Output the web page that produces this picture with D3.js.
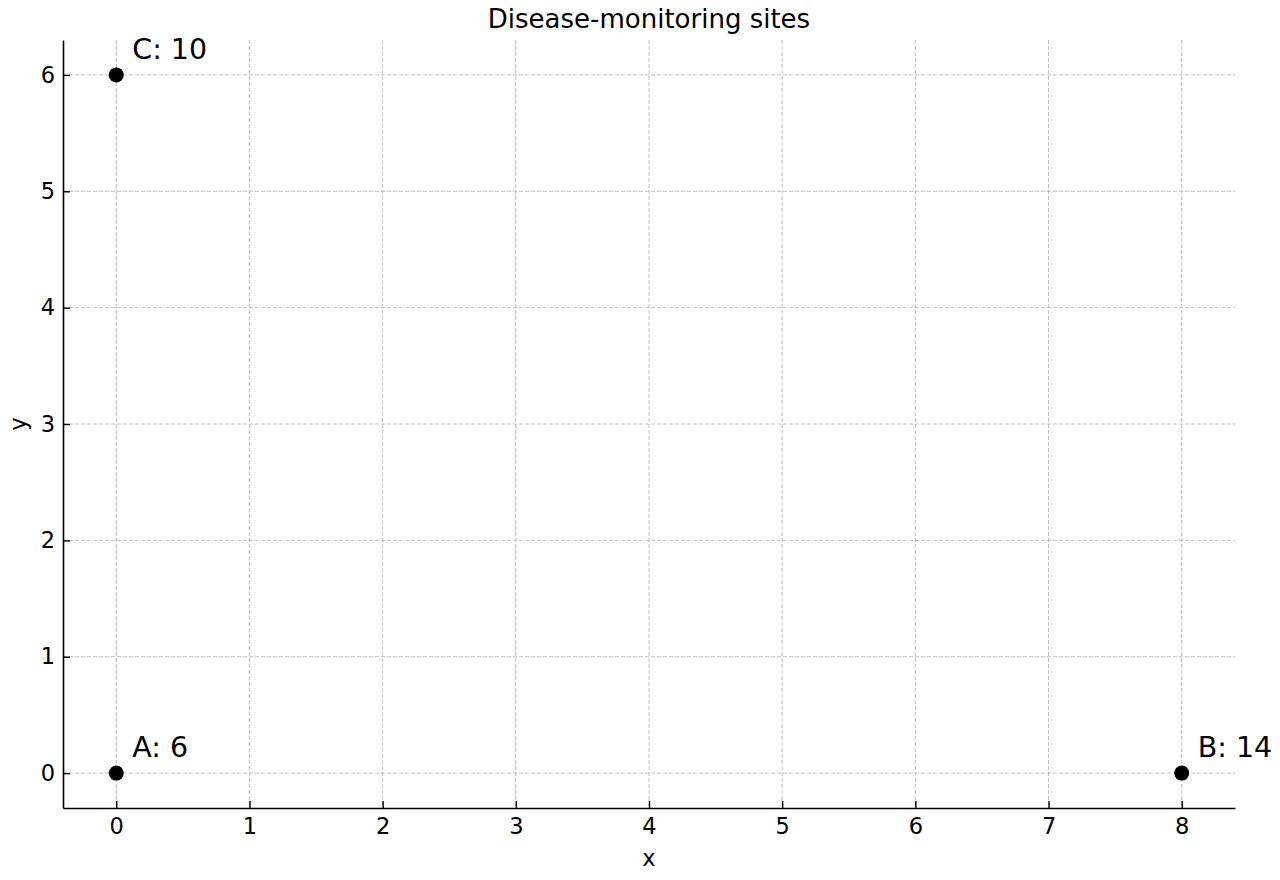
<!DOCTYPE html>
<html>
<head>
<meta charset="utf-8">
<script src="https://cdn.jsdelivr.net/npm/d3@7"></script>
<style>
  body { margin: 0; background: #fff; }
  svg text { font-family: 'DejaVu Sans', sans-serif; fill: #000; }
</style>
</head>
<body>
<div id="chart"></div>
<script>
// sites: name, coordinates and case count
const siteNames = ['A', 'B', 'C'];
const siteX = [0, 8, 0];
const siteY = [0, 0, 6];
const siteCases = [6, 14, 10];
const xTicks = [0, 1, 2, 3, 4, 5, 6, 7, 8];
const yTicks = [0, 1, 2, 3, 4, 5, 6];

const W = 1280, H = 880;
const margin = { top: 40, right: 45, bottom: 72, left: 63 };
const innerW = W - margin.left - margin.right;
const innerH = H - margin.top - margin.bottom;

const svg = d3.select('#chart').append('svg').attr('width', W).attr('height', H);
const g = svg.append('g').attr('transform', `translate(${margin.left},${margin.top})`);

const x = d3.scaleLinear().domain([-0.4, 8.4]).range([0, innerW]);
const y = d3.scaleLinear().domain([-0.3, 6.3]).range([innerH, 0]);

// grid
g.selectAll('.gx').data(xTicks).enter().append('line')
  .attr('x1', d => x(d)).attr('x2', d => x(d)).attr('y1', 0).attr('y2', innerH)
  .attr('stroke', '#b0b0b0').attr('stroke-width', 0.8).attr('stroke-dasharray', '4 2');
g.selectAll('.gy').data(yTicks).enter().append('line')
  .attr('y1', d => y(d)).attr('y2', d => y(d)).attr('x1', 0).attr('x2', innerW)
  .attr('stroke', '#b0b0b0').attr('stroke-width', 0.8).attr('stroke-dasharray', '4 2');

// axes (ticks pointing inward)
const xAxis = g.append('g').attr('transform', `translate(0,${innerH})`)
  .call(d3.axisBottom(x).tickValues(xTicks).tickFormat(d3.format('d')).tickSizeInner(-7).tickSizeOuter(0).tickPadding(10));
const yAxis = g.append('g')
  .call(d3.axisLeft(y).tickValues(yTicks).tickFormat(d3.format('d')).tickSizeInner(-7).tickSizeOuter(0).tickPadding(8));
[xAxis, yAxis].forEach(a => {
  a.select('.domain').attr('stroke', '#000').attr('stroke-width', 1.6);
  a.selectAll('.tick line').attr('stroke', '#000').attr('stroke-width', 1.4);
  a.selectAll('.tick text').style('font-size', '22.5px').style('font-family', "'DejaVu Sans', sans-serif").attr('fill', '#000');
});

// points
g.selectAll('.pt').data(siteNames).enter().append('circle')
  .attr('cx', (d, i) => x(siteX[i])).attr('cy', (d, i) => y(siteY[i])).attr('r', 7.5).attr('fill', '#000');

g.selectAll('.lbl').data(siteNames).enter().append('text')
  .attr('x', (d, i) => x(siteX[i]) + 16).attr('y', (d, i) => y(siteY[i]) - 16)
  .style('font-size', '28.5px').text((d, i) => `${d}: ${siteCases[i]}`);

// title and axis labels
svg.append('text').attr('x', margin.left + innerW / 2).attr('y', 28)
  .attr('text-anchor', 'middle').style('font-size', '26px').text('Disease-monitoring sites');
svg.append('text').attr('x', margin.left + innerW / 2).attr('y', 866)
  .attr('text-anchor', 'middle').style('font-size', '22.5px').text('x');
svg.append('text').attr('transform', `translate(26,${margin.top + innerH / 2}) rotate(-90)`)
  .attr('text-anchor', 'middle').style('font-size', '22.5px').text('y');
</script>
</body>
</html>
